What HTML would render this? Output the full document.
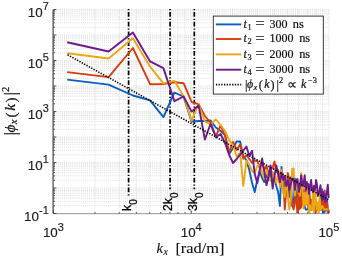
<!DOCTYPE html><html><head><meta charset="utf-8"><title>plot</title>
<style>html,body{margin:0;padding:0;background:#fff}svg{display:block;will-change:transform}text{font-family:"Liberation Sans",sans-serif;fill:#1c1c1c;stroke:#1c1c1c;stroke-width:0.15px}.s{font-family:"Liberation Serif",serif;fill:#111;stroke:#111;stroke-width:0.2px}</style></head><body>
<svg width="342" height="260" viewBox="0 0 342 260">
<rect width="342" height="260" fill="#fff"/>
<path d="M53.5 213.50H329.0M53.5 205.82H329.0M53.5 201.33H329.0M53.5 198.15H329.0M53.5 195.68H329.0M53.5 193.66H329.0M53.5 191.95H329.0M53.5 190.47H329.0M53.5 189.17H329.0M53.5 188.00H329.0M53.5 180.32H329.0M53.5 175.83H329.0M53.5 172.65H329.0M53.5 170.18H329.0M53.5 168.16H329.0M53.5 166.45H329.0M53.5 164.97H329.0M53.5 163.67H329.0M53.5 162.50H329.0M53.5 154.82H329.0M53.5 150.33H329.0M53.5 147.15H329.0M53.5 144.68H329.0M53.5 142.66H329.0M53.5 140.95H329.0M53.5 139.47H329.0M53.5 138.17H329.0M53.5 137.00H329.0M53.5 129.32H329.0M53.5 124.83H329.0M53.5 121.65H329.0M53.5 119.18H329.0M53.5 117.16H329.0M53.5 115.45H329.0M53.5 113.97H329.0M53.5 112.67H329.0M53.5 111.50H329.0M53.5 103.82H329.0M53.5 99.33H329.0M53.5 96.15H329.0M53.5 93.68H329.0M53.5 91.66H329.0M53.5 89.95H329.0M53.5 88.47H329.0M53.5 87.17H329.0M53.5 86.00H329.0M53.5 78.32H329.0M53.5 73.83H329.0M53.5 70.65H329.0M53.5 68.18H329.0M53.5 66.16H329.0M53.5 64.45H329.0M53.5 62.97H329.0M53.5 61.67H329.0M53.5 60.50H329.0M53.5 52.82H329.0M53.5 48.33H329.0M53.5 45.15H329.0M53.5 42.68H329.0M53.5 40.66H329.0M53.5 38.95H329.0M53.5 37.47H329.0M53.5 36.17H329.0M53.5 35.00H329.0M53.5 27.32H329.0M53.5 22.83H329.0M53.5 19.65H329.0M53.5 17.18H329.0M53.5 15.16H329.0M53.5 13.45H329.0M53.5 11.97H329.0M53.5 10.67H329.0M53.5 9.5H329.0" stroke="#cacaca" stroke-width="0.6" stroke-dasharray="1 1.1" fill="none"/>
<path d="M53.50 9.5V213.5M94.97 9.5V213.5M119.22 9.5V213.5M136.43 9.5V213.5M149.78 9.5V213.5M160.69 9.5V213.5M169.91 9.5V213.5M177.90 9.5V213.5M184.95 9.5V213.5M191.25 9.5V213.5M232.72 9.5V213.5M256.97 9.5V213.5M274.18 9.5V213.5M287.53 9.5V213.5M298.44 9.5V213.5M307.66 9.5V213.5M315.65 9.5V213.5M322.70 9.5V213.5M329.0 9.5V213.5" stroke="#cacaca" stroke-width="0.6" stroke-dasharray="1 1.1" fill="none"/>
<path d="M128.6 9.1V196.6" stroke="#000" stroke-width="1.7" stroke-dasharray="4.8 2 1.25 1.7" stroke-dashoffset="6.8" fill="none"/>
<path d="M170.1 9.1V189.2" stroke="#000" stroke-width="1.7" stroke-dasharray="4.8 2 1.25 1.7" stroke-dashoffset="6.8" fill="none"/>
<path d="M194.3 9.1V189.2" stroke="#000" stroke-width="1.7" stroke-dasharray="4.8 2 1.25 1.7" stroke-dashoffset="6.8" fill="none"/>
<clipPath id="c"><rect x="53.5" y="9.5" width="276.5" height="204.0"/></clipPath>
<g clip-path="url(#c)" fill="none" stroke-width="1.9" stroke-linejoin="round">
<polyline points="67.2,79.6 108.6,84.6 132.9,95.5 150.1,100.4 163.4,117.1 174.4,92.5 183.6,96.6 191.6,121.6 198.6,121.0 204.9,121.0 210.6,120.5 215.8,127.5 220.6,131.0 225.0,135.0 229.2,154.0 233.0,148.0 236.7,141.5 240.1,141.5 243.3,156.3 246.4,160.0 249.3,170.0 252.1,183.0 254.7,192.0 257.3,180.0 259.7,171.5 262.1,178.0 264.3,182.0 266.5,175.0 268.6,180.0 270.6,172.0 272.6,184.0 274.5,178.0 276.3,186.0 278.1,192.0 279.9,206.0 281.5,167.0 283.2,180.0 284.8,186.0 286.3,182.1 287.8,180.7 289.3,196.9 290.8,177.3 292.2,206.3 293.6,207.5 294.9,178.5 296.2,184.5 297.5,201.0 298.8,209.5 300.0,190.2 301.2,204.0 302.4,189.1 303.5,191.5 304.7,207.0 305.8,209.5 306.9,209.5 308.0,209.5 309.0,190.4 310.1,208.0 311.1,209.5 312.1,209.5 313.1,208.3 314.1,204.0 315.0,206.0 316.0,209.5 316.9,209.5 317.8,209.5 318.7,209.5 319.6,204.0 320.5,196.1 321.3,209.5 322.2,189.5 323.0,215.0 323.8,217.0 324.7,211.0 325.5,209.5 326.2,209.5 327.0,198.8 327.8,209.5 328.6,209.5" stroke="#0A5EC2"/>
<polyline points="67.2,72.1 108.6,77.1 132.9,48.0 150.1,84.2 163.4,84.0 174.4,82.3 183.6,83.2 191.6,102.0 198.6,104.2 204.9,116.0 210.6,122.6 215.8,136.5 220.6,125.5 225.0,135.5 229.2,152.0 233.0,142.0 236.7,150.0 240.1,144.5 243.3,158.7 246.4,155.2 249.3,159.0 252.1,163.0 254.7,160.5 257.3,160.8 259.7,168.0 262.1,163.0 264.3,170.0 266.5,166.0 268.6,174.0 270.6,169.0 272.6,168.0 274.5,161.5 276.3,172.0 278.1,170.0 279.9,178.0 281.5,172.0 283.2,179.5 284.8,209.5 286.3,190.0 287.8,172.9 289.3,179.5 290.8,200.6 292.2,200.0 293.6,209.5 294.9,203.0 296.2,192.5 297.5,217.0 298.8,186.7 300.0,208.7 301.2,207.2 302.4,184.1 303.5,205.7 304.7,194.5 305.8,187.1 306.9,181.7 308.0,205.0 309.0,184.7 310.1,209.5 311.1,199.6 312.1,209.5 313.1,197.9 314.1,208.3 315.0,217.0 316.0,209.5 316.9,209.5 317.8,209.5 318.7,204.7 319.6,209.5 320.5,209.5 321.3,207.0 322.2,200.9 323.0,209.5 323.8,206.6 324.7,190.4 325.5,209.5 326.2,209.5 327.0,202.6 327.8,217.0 328.6,209.5" stroke="#D83C0E"/>
<polyline points="67.2,53.2 108.6,58.5 132.9,38.3 150.1,66.7 163.4,83.4 174.4,80.8 183.6,96.2 191.6,120.6 198.6,104.0 204.9,121.5 210.6,124.4 215.8,119.5 220.6,125.0 225.0,131.0 229.2,140.0 233.0,145.5 236.7,156.5 240.1,153.0 243.3,186.0 246.4,160.8 249.3,165.0 252.1,171.0 254.7,173.0 257.3,166.0 259.7,164.6 262.1,172.0 264.3,179.0 266.5,170.0 268.6,177.0 270.6,181.0 272.6,172.0 274.5,176.0 276.3,183.0 278.1,174.0 279.9,187.2 281.5,169.7 283.2,193.4 284.8,197.1 286.3,178.9 287.8,195.4 289.3,209.5 290.8,200.5 292.2,168.8 293.6,168.4 294.9,195.7 296.2,186.2 297.5,183.8 298.8,192.7 300.0,195.7 301.2,173.1 302.4,186.9 303.5,208.5 304.7,192.7 305.8,204.9 306.9,202.5 308.0,187.9 309.0,217.0 310.1,205.3 311.1,208.3 312.1,209.5 313.1,185.6 314.1,216.0 315.0,190.3 316.0,200.2 316.9,209.5 317.8,202.8 318.7,217.0 319.6,194.4 320.5,209.5 321.3,208.0 322.2,205.9 323.0,207.2 323.8,209.5 324.7,209.5 325.5,209.5 326.2,209.0 327.0,209.5 327.8,209.5 328.6,209.5" stroke="#ECA612"/>
<polyline points="67.2,42.2 108.6,51.5 132.9,32.4 150.1,61.4 163.4,68.1 174.4,101.2 183.6,96.5 191.6,111.6 198.6,105.3 204.9,139.5 210.6,123.8 215.8,137.2 220.6,134.0 225.0,143.0 229.2,155.0 233.0,163.0 236.7,159.0 240.1,154.6 243.3,150.5 246.4,146.5 249.3,156.0 252.1,150.8 254.7,174.0 257.3,183.0 259.7,170.0 262.1,158.5 264.3,172.0 266.5,185.4 268.6,176.0 270.6,165.4 272.6,188.5 274.5,176.0 276.3,165.4 278.1,174.0 279.9,182.3 281.5,173.0 283.2,180.0 284.8,176.0 286.3,186.0 287.8,180.0 289.3,190.0 290.8,184.0 292.2,178.5 293.6,179.0 294.9,190.0 296.2,180.0 297.5,179.0 298.8,192.0 300.0,186.0 301.2,175.3 302.4,186.0 303.5,184.0 304.7,175.3 305.8,190.0 306.9,183.0 308.0,184.0 309.0,194.0 310.1,186.0 311.1,180.0 312.1,190.0 313.1,192.0 314.1,186.0 315.0,190.0 316.0,180.0 316.9,184.0 317.8,196.0 318.7,194.0 319.6,190.0 320.5,185.2 321.3,196.0 322.2,200.0 323.0,192.0 323.8,199.0 324.7,194.0 325.5,202.0 326.2,196.0 327.0,192.0 327.8,184.6 328.6,198.0" stroke="#6E1A8A"/>
<path d="M67.6 54.8L329.0 199.9" stroke="#000" stroke-width="1.6" stroke-dasharray="1.3 1.4"/>
</g>
<path d="M53.1 9.5V213.5" stroke="#555" stroke-width="1.3" fill="none"/>
<path d="M53.5 213.7H329.0" stroke="#8c8c8c" stroke-width="0.9" fill="none"/>
<path d="M53.5 213.50h2.8M53.5 205.82h1.4M53.5 201.33h1.4M53.5 198.15h1.4M53.5 195.68h1.4M53.5 193.66h1.4M53.5 191.95h1.4M53.5 190.47h1.4M53.5 189.17h1.4M53.5 188.00h2.8M53.5 180.32h1.4M53.5 175.83h1.4M53.5 172.65h1.4M53.5 170.18h1.4M53.5 168.16h1.4M53.5 166.45h1.4M53.5 164.97h1.4M53.5 163.67h1.4M53.5 162.50h2.8M53.5 154.82h1.4M53.5 150.33h1.4M53.5 147.15h1.4M53.5 144.68h1.4M53.5 142.66h1.4M53.5 140.95h1.4M53.5 139.47h1.4M53.5 138.17h1.4M53.5 137.00h2.8M53.5 129.32h1.4M53.5 124.83h1.4M53.5 121.65h1.4M53.5 119.18h1.4M53.5 117.16h1.4M53.5 115.45h1.4M53.5 113.97h1.4M53.5 112.67h1.4M53.5 111.50h2.8M53.5 103.82h1.4M53.5 99.33h1.4M53.5 96.15h1.4M53.5 93.68h1.4M53.5 91.66h1.4M53.5 89.95h1.4M53.5 88.47h1.4M53.5 87.17h1.4M53.5 86.00h2.8M53.5 78.32h1.4M53.5 73.83h1.4M53.5 70.65h1.4M53.5 68.18h1.4M53.5 66.16h1.4M53.5 64.45h1.4M53.5 62.97h1.4M53.5 61.67h1.4M53.5 60.50h2.8M53.5 52.82h1.4M53.5 48.33h1.4M53.5 45.15h1.4M53.5 42.68h1.4M53.5 40.66h1.4M53.5 38.95h1.4M53.5 37.47h1.4M53.5 36.17h1.4M53.5 35.00h2.8M53.5 27.32h1.4M53.5 22.83h1.4M53.5 19.65h1.4M53.5 17.18h1.4M53.5 15.16h1.4M53.5 13.45h1.4M53.5 11.97h1.4M53.5 10.67h1.4M53.5 9.50h2.8M53.50 213.5v-2.8M94.97 213.5v-1.4M119.22 213.5v-1.4M136.43 213.5v-1.4M149.78 213.5v-1.4M160.69 213.5v-1.4M169.91 213.5v-1.4M177.90 213.5v-1.4M184.95 213.5v-1.4M191.25 213.5v-2.8M232.72 213.5v-1.4M256.97 213.5v-1.4M274.18 213.5v-1.4M287.53 213.5v-1.4M298.44 213.5v-1.4M307.66 213.5v-1.4M315.65 213.5v-1.4M322.70 213.5v-1.4M329.00 213.5v-2.8" stroke="#262626" stroke-width="0.8" fill="none"/>
<text x="48.8" y="16.5" text-anchor="end" font-size="13.4"><tspan>10</tspan><tspan dy="-6.3" font-size="11">7</tspan></text>
<text x="48.8" y="67.5" text-anchor="end" font-size="13.4"><tspan>10</tspan><tspan dy="-6.3" font-size="11">5</tspan></text>
<text x="48.8" y="118.5" text-anchor="end" font-size="13.4"><tspan>10</tspan><tspan dy="-6.3" font-size="11">3</tspan></text>
<text x="48.8" y="169.5" text-anchor="end" font-size="13.4"><tspan>10</tspan><tspan dy="-6.3" font-size="11">1</tspan></text>
<text x="48.8" y="220.5" text-anchor="end" font-size="13.4"><tspan>10</tspan><tspan dy="-6.3" font-size="11">-1</tspan></text>
<text x="42.9" y="236.9" font-size="13.4"><tspan>10</tspan><tspan dy="-6.3" font-size="11">3</tspan></text>
<text x="180.7" y="236.9" font-size="13.4"><tspan>10</tspan><tspan dy="-6.3" font-size="11">4</tspan></text>
<text x="318.4" y="236.9" font-size="13.4"><tspan>10</tspan><tspan dy="-6.3" font-size="11">5</tspan></text>
<text transform="translate(130.8 211) rotate(-90)" font-size="12.3" style="fill:#000;stroke:#000;stroke-width:0.25px"><tspan>k</tspan><tspan dy="6" font-size="10">0</tspan></text>
<text transform="translate(172.3 211) rotate(-90)" font-size="12.3" style="fill:#000;stroke:#000;stroke-width:0.25px"><tspan>2k</tspan><tspan dy="6" font-size="10">0</tspan></text>
<text transform="translate(196.9 211) rotate(-90)" font-size="12.3" style="fill:#000;stroke:#000;stroke-width:0.25px"><tspan>3k</tspan><tspan dy="6" font-size="10">0</tspan></text>
<text class="s" font-size="14" style="stroke-width:0.1px"><tspan x="156.4" y="253.3" font-style="italic" font-size="14.5">k</tspan><tspan x="163.4" y="255.3" font-style="italic" font-size="10">x</tspan><tspan x="175.4" y="253.3" textLength="49" lengthAdjust="spacingAndGlyphs">[rad/m]</tspan></text>
<text class="s" transform="translate(14.9 134.2) rotate(-90)"><tspan x="-1.02" y="0.76" font-size="15.75">|</tspan><tspan x="1.65" y="0" font-size="15.24" font-style="italic">ϕ</tspan><tspan x="10.03" y="2.41" font-size="10.67" font-style="italic">x</tspan><tspan x="16.64" y="0.76" font-size="15.24">(</tspan><tspan x="23.50" y="0" font-size="15.24" font-style="italic">k</tspan><tspan x="31.62" y="0.76" font-size="15.24">)</tspan><tspan x="38.99" y="0.76" font-size="15.75">|</tspan><tspan x="42.29" y="-5.84" font-size="10.67">2</tspan></text>
<rect x="213.3" y="16.1" width="110" height="78" fill="#fff" stroke="#262626" stroke-width="0.9"/>
<path d="M215.9 24.4H241.3" stroke="#0A5EC2" stroke-width="1.9"/>
<text class="s" font-size="12"><tspan x="243.6" y="27.7" font-style="italic">t</tspan><tspan x="247.6" y="29.6" font-size="8.4">1</tspan><tspan x="269.6" y="27.7">300</tspan><tspan x="292.8" y="27.7" textLength="11" lengthAdjust="spacingAndGlyphs">ns</tspan></text>
<text class="s" font-size="15" transform="translate(255.2 28.4) scale(1.12 1)">=</text>
<path d="M215.9 39.0H241.3" stroke="#D83C0E" stroke-width="1.9"/>
<text class="s" font-size="12"><tspan x="243.6" y="42.3" font-style="italic">t</tspan><tspan x="247.6" y="44.2" font-size="8.4">2</tspan><tspan x="269.6" y="42.3">1000</tspan><tspan x="299.2" y="42.3" textLength="11" lengthAdjust="spacingAndGlyphs">ns</tspan></text>
<text class="s" font-size="15" transform="translate(255.2 43.0) scale(1.12 1)">=</text>
<path d="M215.9 54.4H241.3" stroke="#ECA612" stroke-width="1.9"/>
<text class="s" font-size="12"><tspan x="243.6" y="57.7" font-style="italic">t</tspan><tspan x="247.6" y="59.6" font-size="8.4">3</tspan><tspan x="269.6" y="57.7">2000</tspan><tspan x="299.2" y="57.7" textLength="11" lengthAdjust="spacingAndGlyphs">ns</tspan></text>
<text class="s" font-size="15" transform="translate(255.2 58.4) scale(1.12 1)">=</text>
<path d="M215.9 69.7H241.3" stroke="#6E1A8A" stroke-width="1.9"/>
<text class="s" font-size="12"><tspan x="243.6" y="73.0" font-style="italic">t</tspan><tspan x="247.6" y="74.9" font-size="8.4">4</tspan><tspan x="269.6" y="73.0">3000</tspan><tspan x="299.2" y="73.0" textLength="11" lengthAdjust="spacingAndGlyphs">ns</tspan></text>
<text class="s" font-size="15" transform="translate(255.2 73.7) scale(1.12 1)">=</text>
<path d="M215.9 84.6H241.3" stroke="#000" stroke-width="1.6" stroke-dasharray="1.3 1.4"/>
<text class="s" transform="translate(245.7 88.0)"><tspan x="-0.80" y="0.60" font-size="12.40">|</tspan><tspan x="1.30" y="0" font-size="12.00" font-style="italic">ϕ</tspan><tspan x="7.90" y="1.90" font-size="8.40" font-style="italic">x</tspan><tspan x="13.10" y="0.60" font-size="12.00">(</tspan><tspan x="18.50" y="0" font-size="12.00" font-style="italic">k</tspan><tspan x="24.90" y="0.60" font-size="12.00">)</tspan><tspan x="30.70" y="0.60" font-size="12.40">|</tspan><tspan x="33.30" y="-4.60" font-size="8.40">2</tspan><tspan x="40.9" y="0.6" font-size="14">∝</tspan><tspan x="55.3" y="0" font-size="12" font-style="italic">k</tspan><tspan x="62.3" y="-4.6" font-size="8.4">−3</tspan></text>
</svg></body></html>
